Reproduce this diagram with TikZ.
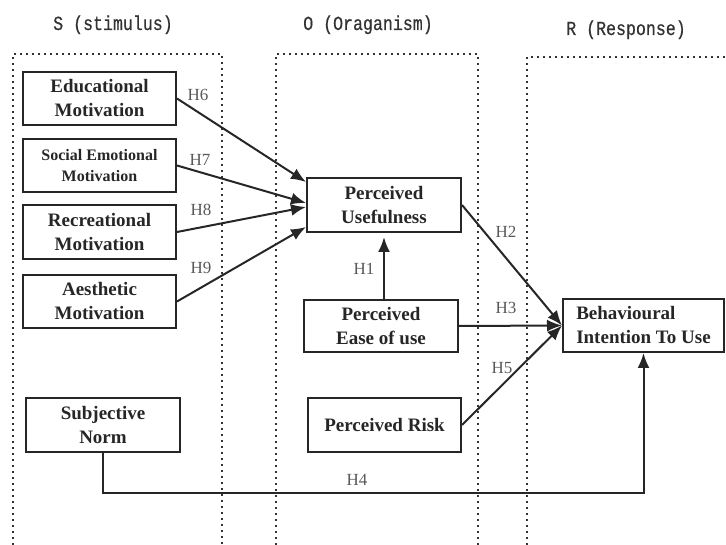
\documentclass[tikz,border=0pt]{standalone}
\usepackage{fontspec}
\setmainfont{Liberation Serif}
\newfontfamily\titlefont[FakeStretch=0.83, FakeBold=0.6]{Liberation Mono}
\usetikzlibrary{arrows.meta}

\begin{document}
\begin{tikzpicture}[x=1pt, y=-1pt,
    box/.style={draw=black!85, line width=2pt, align=center, inner sep=0pt, text=black!85,
        font=\fontsize{19}{24}\selectfont\bfseries},
    hyp/.style={font=\fontsize{17}{17}\selectfont, text=black!65, inner sep=0pt},
    ttl/.style={font=\titlefont\fontsize{20}{20}\selectfont, text=black!80, inner sep=0pt, anchor=base},
    col/.style={line width=1.8pt, dash pattern=on 1.8pt off 4.2pt, black!80},
    arr/.style={line width=2pt, draw=black!85, -{Latex[length=15pt,width=12pt]}}]
    \useasboundingbox (0,0) rectangle (726,545);
    \draw[col] (13,545) -- (13,54) -- (222,54) -- (222,545);
    \draw[col] (276,545) -- (276,54) -- (478,54) -- (478,545);
    \draw[col] (527,545) -- (527,57) -- (726,57);
    \node[ttl] (tS) at (113,30) {S (stimulus)};
    \node[ttl] (tO) at (368,30) {O (Oraganism)};
    \node[ttl] (tR) at (626,35) {R (Response)};
    \foreach \n/\y/\h/\t in {edu/98.5/53/{Educational\\Motivation}, rec/232/54/{Recreational\\Motivation},
        aes/301.5/53/{Aesthetic\\Motivation}} {
        \node[box, minimum width=153, minimum height=\h] (\n) at (99.5,\y) {\t};
    }
    \node[box, minimum width=153, minimum height=53, font=\fontsize{16}{21}\selectfont\bfseries] (soc) at (99.5,165.5) {Social Emotional\\Motivation};
    \node[box, minimum width=154, minimum height=54] (sn) at (103,425) {Subjective\\Norm};
    \node[box, minimum width=154, minimum height=54] (pu) at (384,205) {Perceived\\Usefulness};
    \node[box, minimum width=154, minimum height=52] (peu) at (381,326) {Perceived\\Ease of use};
    \node[box, minimum width=153, minimum height=54] (pr) at (384.5,425) {Perceived Risk};
    \node[box, align=left, minimum width=161, minimum height=53] (bi) at (643.5,325.5) {Behavioural\\Intention To Use};
    \foreach \n/\s in {edu/23, soc/2, rec/-2, aes/-22} {
        \draw[arr] (\n.east) -- ([yshift=\s]pu.west);
    }
    \draw[arr] (peu.north -| pu.south) -- ([yshift=-4]pu.south);
    \draw[arr] (pu.east) -- (bi.west);
    \draw[arr] (peu.east) -- (bi.west);
    \draw[arr] (pr.east) -- (bi.west);
    \draw[arr] (sn.south) -- ++(0,40) -| (bi.south);
    \foreach \h/\p in {H6/{198,95}, H7/{200,160}, H8/{201,210}, H9/{201,268}, H1/{364,269},
        H2/{506,232}, H3/{506,308}, H5/{502,368}, H4/{357,480}} {
        \node[hyp] (l\h) at (\p) {\h};
    }
\end{tikzpicture}
\end{document}
